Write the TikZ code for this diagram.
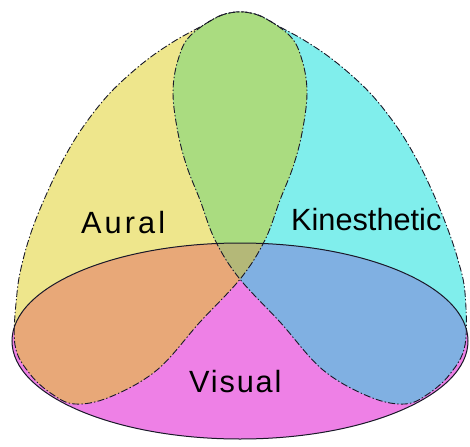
\documentclass[tikz,border=0pt]{standalone}
\usepackage{fontspec}
\setmainfont{Liberation Sans}
\definecolor{yellowA}{RGB}{238,230,140}
\definecolor{cyanK}{RGB}{128,238,236}
\definecolor{magV}{RGB}{238,128,230}
\definecolor{greenAK}{RGB}{170,220,128}
\definecolor{orangeAV}{RGB}{232,168,120}
\definecolor{blueKV}{RGB}{128,176,226}
\definecolor{oliveAKV}{RGB}{180,184,120}
\definecolor{inkline}{RGB}{25,25,40}
\tikzset{
  setline/.style={draw=inkline, line width=0.9pt, dash pattern=on 7pt off 2.2pt on 1.4pt off 2.2pt},
  ellline/.style={draw=inkline, line width=1pt},
  lbl/.style={inner sep=0pt, anchor=base west, text=black, font=\fontsize{30.7}{36}\selectfont}
}
\def\auralpath{plot[smooth cycle, tension=0.6] coordinates {(225,14) (255,14) (289,35) (302,60) (307,93) (302,133) (293,167) (280,200) (265,240) (241,278) (200,322) (157,370) (110,397) (75,404) (52,394) (30,374) (15,345) (17,293) (23,260) (33,227) (47,193) (63,160) (83,127) (110,93) (143,63) (173,42) (200,27)}}
\def\kinpath{plot[smooth cycle, tension=0.6] coordinates {(255,14) (225,14) (191,35) (178,60) (173,93) (178,133) (187,167) (200,200) (215,240) (239,278) (280,322) (323,370) (370,397) (405,404) (428,394) (450,374) (465,345) (465,293) (458,260) (447,227) (433,193) (417,160) (397,127) (370,93) (337,63) (307,42) (280,27)}}
\def\vispath{(240,341) ellipse [x radius=228, y radius=98]}
\begin{document}
\begin{tikzpicture}[x=1pt,y=-1pt]
\useasboundingbox (0,0) rectangle (470,446);
\fill[white] (0,0) rectangle (470,446);
% single-set regions
\fill[yellowA] \auralpath;
\fill[cyanK] \kinpath;
\fill[magV] \vispath;
% pairwise intersections
\begin{scope}
  \clip \auralpath;
  \fill[greenAK] \kinpath;
  \fill[orangeAV] \vispath;
\end{scope}
\begin{scope}
  \clip \kinpath;
  \fill[blueKV] \vispath;
\end{scope}
% triple intersection
\begin{scope}
  \clip \auralpath;
  \clip \kinpath;
  \fill[oliveAKV] \vispath;
\end{scope}
% outlines
\path[setline] \auralpath;
\path[setline] \kinpath;
\path[ellline] \vispath;
% labels
\node[lbl] (aural) at (81,233) {\addfontfeature{LetterSpace=10}Aural};
\node[lbl] (kin) at (291,230) {Kinesthetic};
\node[lbl] (vis) at (189,392) {\addfontfeature{LetterSpace=6}Visual};
\end{tikzpicture}
\end{document}
